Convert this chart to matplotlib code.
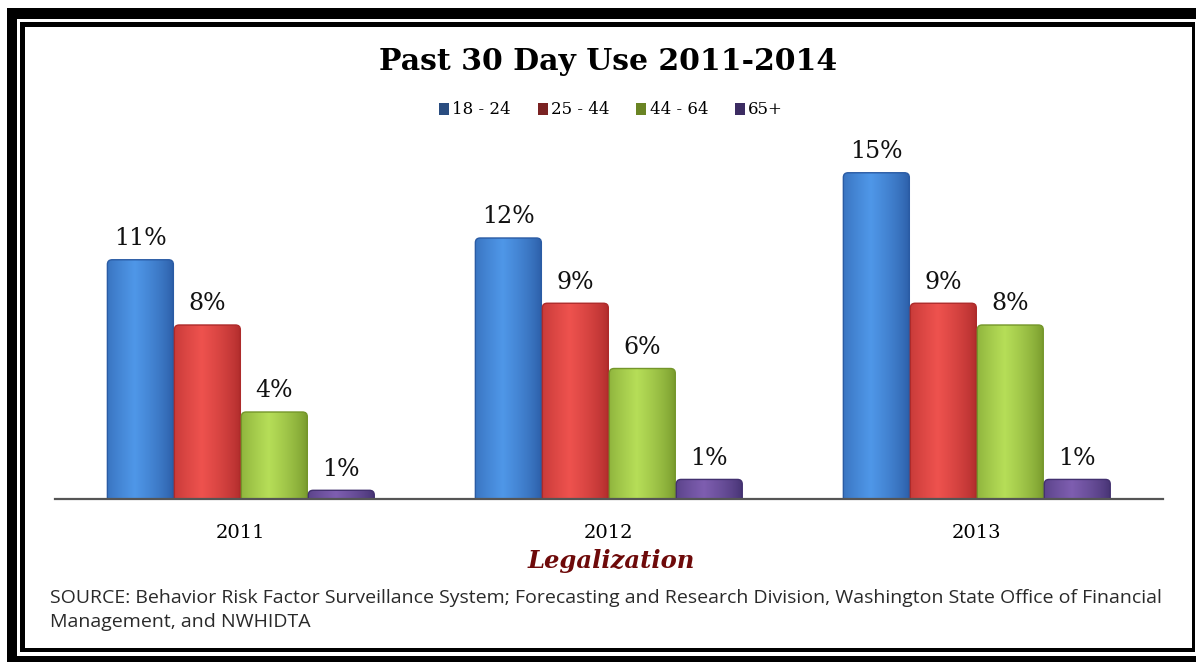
#!/usr/bin/env python3
import numpy as np
import matplotlib
matplotlib.use("Agg")
import matplotlib.pyplot as plt
from matplotlib.colors import to_rgb
from matplotlib.patches import Rectangle, FancyBboxPatch, Patch

# ── DATA ─────────────────────────────────────────────────────────────────────
YEARS = ["2011", "2012", "2013"]
AGE_GROUPS = ["18 - 24", "25 - 44", "44 - 64", "65+"]
VALUES = [
    [11, 12, 15],     # 18 - 24
    [8, 9, 9],        # 25 - 44
    [4, 6, 8],        # 44 - 64
    [0.4, 0.9, 0.9],  # 65+
]
LABELS = [
    ["11%", "12%", "15%"],
    ["8%", "9%", "9%"],
    ["4%", "6%", "8%"],
    ["1%", "1%", "1%"],
]
TITLE = "Past 30 Day Use 2011-2014"
SOURCE = ("SOURCE: Behavior Risk Factor Surveillance System; Forecasting and Research Division, "
          "Washington State Office of Financial\nManagement, and NWHIDTA")
# ─────────────────────────────────────────────────────────────────────────────

# (edge colour, highlight colour, legend colour)
COLORS = [
    ("#2a5ba4", "#4f97e8", "#2a4d80"),
    ("#ad2a2a", "#ee524e", "#7a2222"),
    ("#74962a", "#b6de58", "#6a8424"),
    ("#42306f", "#7e5eb0", "#3c2c62"),
]

W, H = 1196, 662
SERIF = "DejaVu Serif"


def fx(px):
    return px / W


def fy(py):
    return 1 - py / H


def gradient(c_edge, c_mid):
    e = np.array(to_rgb(c_edge))
    m = np.array(to_rgb(c_mid))
    t = np.linspace(0, 1, 64)
    # bright at ~40% across, dark at the sides
    w = np.clip(1 - np.abs(t - 0.42) / 0.6, 0, 1) ** 0.7
    row = e[None, :] * (1 - w[:, None]) + m[None, :] * w[:, None]
    return row[None, :, :]


def frame(fig, x0, y0, x1, y1, color):
    fig.add_artist(Rectangle((fx(x0), fy(y1)), fx(x1 - x0), fy(y0) - fy(y1),
                             transform=fig.transFigure, fc=color, ec="none",
                             zorder=-5))


def main():
    fig = plt.figure(figsize=(W / 100, H / 100), dpi=100)
    fig.patch.set_facecolor("white")

    # double frame
    frame(fig, 7, 8, 1300, 700, "black")
    frame(fig, 17, 19, 1300, 656, "white")
    frame(fig, 20, 22, 1195, 652, "black")
    frame(fig, 25, 26.5, 1191.5, 648, "white")

    ax = fig.add_axes([fx(55), fy(499), fx(1108), fy(151) - fy(499)])
    ax.set_facecolor("none")
    ax.set_zorder(2)

    x = np.arange(len(YEARS))
    bw = 0.182
    for i, (vals, labs) in enumerate(zip(VALUES, LABELS)):
        edge, mid, _ = COLORS[i]
        bars = ax.bar(x + (i - 1.5) * bw, vals, width=bw * 0.985,
                      color="none", edgecolor="none")
        for b, lab in zip(bars, labs):
            bx, bh, bwid = b.get_x(), b.get_height(), b.get_width()
            r = 0.2
            shape = FancyBboxPatch((bx, -r), bwid, bh + r,
                                   boxstyle="round,pad=0,rounding_size=0.013",
                                   mutation_aspect=16.5,
                                   fc="none", ec=edge, lw=1.0, zorder=3)
            ax.add_patch(shape)
            im = ax.imshow(gradient(edge, mid), extent=(bx, bx + bwid, 0, bh),
                           aspect="auto", interpolation="bilinear", zorder=2)
            im.set_clip_path(shape)
            ax.annotate(lab, (bx + bwid / 2, bh), xytext=(0, 7),
                        textcoords="offset points", ha="center", va="bottom",
                        fontsize=17, family=SERIF, color="#111111")
    ax.set_xlim(-0.505, 2.506)
    ax.set_ylim(0, 16)

    ax.set_xticks(x)
    ax.set_xticklabels(YEARS, fontsize=14, family=SERIF)
    ax.tick_params(axis="x", length=0, pad=18)
    ax.set_yticks([])
    for s in ("top", "right", "left"):
        ax.spines[s].set_visible(False)
    ax.spines["bottom"].set_color("#555555")
    ax.spines["bottom"].set_linewidth(1.6)
    ax.spines["bottom"].set_zorder(4)

    handles = [Patch(fc=c[2], ec="none") for c in COLORS]
    fig.legend(handles, AGE_GROUPS, loc="center", bbox_to_anchor=(fx(611), fy(110)),
               ncol=4, frameon=False, handlelength=0.6, handleheight=0.7,
               handletextpad=0.2, columnspacing=1.6,
               prop={"family": SERIF, "size": 12})

    fig.text(fx(608), fy(61), TITLE, ha="center", va="center",
             fontsize=21.5, fontweight="bold", family=SERIF)
    fig.text(fx(611), fy(561), "Legalization", ha="center", va="center",
             fontsize=17.5, fontweight="bold", style="italic", family=SERIF,
             color="#6e0a0a")
    fig.text(fx(50), fy(610), SOURCE, ha="left", va="center",
             fontsize=14, family="Open Sans", color="#2a2a2a", linespacing=1.42)

    fig.savefig("out.png", dpi=100)


if __name__ == "__main__":
    main()
